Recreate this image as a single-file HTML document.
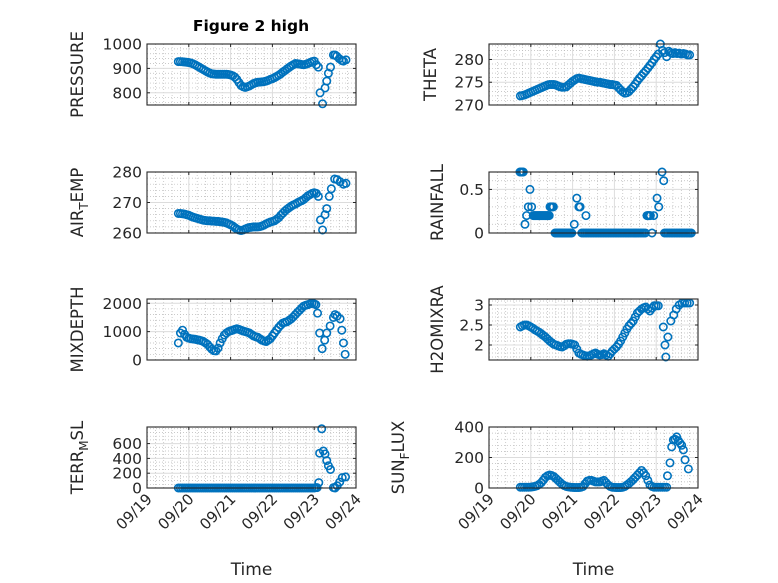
<!DOCTYPE html>
<html><head><meta charset="utf-8"><style>
body{margin:0;background:#fff;}
svg{display:block;font-family:"DejaVu Sans","Liberation Sans",sans-serif;}
</style></head><body>
<svg id="fig" width="778" height="583" viewBox="0 0 778 583" xmlns="http://www.w3.org/2000/svg">
<rect width="778" height="583" fill="#fff"/>
<text x="251" y="31" text-anchor="middle" font-weight="bold" font-size="15.5" fill="#000">Figure 2 high</text>
</svg>
<script>
const dayLabels = ["09/19","09/20","09/21","09/22","09/23","09/24"];
const mainT = [0.75,0.80,0.85,0.90,0.95,1.00,1.05,1.10,1.15,1.20,1.25,1.30,1.35,1.40,1.45,1.50,1.55,1.60,1.65,1.70,1.75,1.80,1.85,1.90,1.95,2.00,2.05,2.10,2.15,2.20,2.25,2.30,2.35,2.40,2.45,2.50,2.55,2.60,2.65,2.70,2.75,2.80,2.85,2.90,2.95,3.00,3.05,3.10,3.15,3.20,3.25,3.30,3.35,3.40,3.45,3.50,3.55,3.60,3.65,3.70,3.75,3.80,3.85,3.90,3.95,4.00];
const pressureV = [928,928,927,926,925,924,922,919,915,910,905,900,895,890,885,881,878,877,876,876,876,876,876,876,875,873,870,864,855,842,830,825,822,825,828,833,838,841,843,844,845,846,848,851,855,858,862,867,872,878,885,891,898,904,910,915,920,919,918,916,915,917,920,924,928,930];
const pressureTailT = [4.05,4.1,4.14,4.2,4.26,4.3,4.34,4.39,4.46,4.5,4.54,4.6,4.66,4.7,4.76];
const pressureTailV = [915,905,800,755,820,848,880,905,955,955,950,940,932,930,935];
const thetaV = [272,272.1,272.2,272.4,272.6,272.8,273,273.2,273.4,273.6,273.8,274,274.2,274.4,274.5,274.5,274.5,274.4,274.2,274,273.9,273.9,274,274.4,274.8,275.2,275.5,275.8,275.9,275.8,275.7,275.6,275.5,275.4,275.3,275.2,275.1,275,275,274.9,274.8,274.7,274.6,274.5,274.5,274.4,274.3,273.8,273.3,272.9,272.6,272.7,273,273.5,274,274.6,275.3,275.9,276.4,277,277.5,278.1,278.7,279.3,280,280.6];
const thetaTailT = [4.05,4.1,4.15,4.2,4.25,4.3,4.35,4.4,4.45,4.5,4.55,4.6,4.65,4.7,4.75,4.8];
const thetaTailV = [281.2,283.4,282,281.5,280.6,281.8,281.5,281.3,281.5,281.3,281.4,281.2,281.3,281.2,281,281];
const airV = [266.4,266.4,266.3,266.2,266,265.8,265.5,265.2,265,264.8,264.6,264.4,264.2,264.1,264,264,263.9,263.9,263.8,263.8,263.7,263.6,263.5,263.3,263,262.7,262.3,261.8,261.3,261,260.8,261,261.3,261.6,261.8,261.9,262,262,262,262.1,262.3,262.6,263,263.3,263.6,263.8,264,264.5,265,265.8,266.5,267.2,267.8,268.3,268.8,269.2,269.5,269.9,270.3,270.6,271,271.6,272.2,272.6,273,273.2];
const airTailT = [4.05,4.1,4.15,4.2,4.26,4.3,4.36,4.41,4.49,4.55,4.62,4.7,4.76];
const airTailV = [273,272,264.3,261,266,268,272,274.5,277.7,277.5,276.8,276,276.3];
const rainT = [0.74,0.76,0.78,0.80,0.82,0.86,0.90,0.94,0.98,1.02,1.06,1.08,1.10,1.12,1.14,1.16,1.18,1.20,1.22,1.24,1.26,1.28,1.30,1.32,1.34,1.36,1.38,1.40,1.42,1.44,1.46,1.48,1.50,1.52,1.54,1.58,1.60,1.62,1.64,1.66,1.68,1.70,1.72,1.74,1.76,1.78,1.80,1.82,1.84,1.86,1.88,1.90,1.92,1.94,1.96,1.98,2.04,2.10,2.15,2.18,2.32,2.22,2.26,2.30,2.34,2.38,2.42,2.46,2.50,2.54,2.58,2.62,2.66,2.70,2.74,2.78,2.82,2.86,2.90,2.94,2.98,3.02,3.06,3.10,3.14,3.18,3.22,3.26,3.30,3.34,3.38,3.42,3.46,3.50,3.54,3.58,3.62,3.66,3.70,3.74,3.78,3.80,3.82,3.84,3.86,3.90,3.94,4.02,4.06,4.14,4.18,4.20,4.24,4.28,4.32,4.36,4.40,4.44,4.48,4.52,4.56,4.60,4.64,4.68,4.72,4.76,4.80,4.84];
const rainV = [0.7,0.7,0.7,0.7,0.7,0.1,0.2,0.3,0.5,0.3,0.2,0.2,0.2,0.2,0.2,0.2,0.2,0.2,0.2,0.2,0.2,0.2,0.2,0.2,0.2,0.2,0.2,0.2,0.2,0.2,0.3,0.3,0.3,0.3,0.3,0,0,0,0,0,0,0,0,0,0,0,0,0,0,0,0,0,0,0,0,0,0.1,0.4,0.3,0.3,0.2,0,0,0,0,0,0,0,0,0,0,0,0,0,0,0,0,0,0,0,0,0,0,0,0,0,0,0,0,0,0,0,0,0,0,0,0,0,0,0,0.2,0.2,0.2,0.2,0.2,0,0.2,0.4,0.3,0.7,0.6,0,0,0,0,0,0,0,0,0,0,0,0,0,0,0,0,0,0];
const mixV = [600,950,1050,900,800,770,750,740,730,715,700,680,650,600,550,460,380,330,320,420,600,750,880,950,1000,1030,1050,1080,1100,1080,1050,1020,1000,980,950,900,850,820,800,750,700,670,650,700,750,850,950,1050,1150,1230,1300,1330,1350,1400,1450,1520,1600,1680,1750,1830,1900,1930,1950,1980,2000,1980];
const mixTailT = [4.04,4.08,4.13,4.19,4.25,4.3,4.38,4.46,4.5,4.55,4.62,4.66,4.7,4.74];
const mixTailV = [1950,1650,950,400,700,950,1200,1500,1600,1550,1450,1050,600,200];
const h2oV = [2.45,2.48,2.5,2.5,2.48,2.45,2.42,2.38,2.35,2.32,2.28,2.24,2.2,2.15,2.1,2.06,2.02,2.0,1.98,1.96,1.95,1.98,2.02,2.03,2.03,2.02,2.0,1.9,1.8,1.77,1.75,1.73,1.72,1.73,1.75,1.78,1.8,1.77,1.75,1.76,1.78,1.75,1.72,1.78,1.85,1.9,1.95,2.02,2.1,2.2,2.3,2.4,2.48,2.54,2.6,2.7,2.8,2.85,2.9,2.93,2.95,2.9,2.85,2.92,2.98,2.98];
const h2oTailT = [4.05,4.17,4.21,4.23,4.28,4.35,4.42,4.48,4.55,4.62,4.68,4.74,4.8];
const h2oTailV = [2.98,2.45,2.0,1.7,2.2,2.6,2.75,2.9,3.0,3.05,3.05,3.05,3.05];
const terrV = [0,0,0,0,0,0,0,0,0,0,0,0,0,0,0,0,0,0,0,0,0,0,0,0,0,0,0,0,0,0,0,0,0,0,0,0,0,0,0,0,0,0,0,0,0,0,0,0,0,0,0,0,0,0,0,0,0,0,0,0,0,0,0,0,0,0];
const terrTailT = [4.04,4.07,4.11,4.13,4.18,4.22,4.26,4.3,4.34,4.39,4.46,4.5,4.55,4.61,4.67,4.75];
const terrTailV = [5,5,73,470,800,500,460,370,300,250,5,0,30,80,140,150];
const sunV = [5,5,5,5,5,6,8,11,15,24,35,52,70,80,85,82,75,63,50,37,25,16,10,7,5,4,3,3,3,5,10,28,45,50,50,45,40,40,40,45,50,35,20,10,5,4,3,3,3,5,10,20,30,42,55,70,85,100,115,100,80,50,20,10,5,5];
const sunTailT = [4.05,4.1,4.15,4.2,4.25,4.27,4.33,4.37,4.41,4.45,4.49,4.53,4.57,4.61,4.65,4.69,4.77];
const sunTailV = [5,5,5,5,5,80,165,270,315,320,335,310,295,280,250,185,125];

const pressureTicks=[800,900,1000], thetaTicks=[270,275,280], airTicks=[260,270,280], rainTicks=[0,0.5];
const mixTicks=[0,1000,2000], h2oTicks=[2,2.5,3], terrTicks=[0,200,400,600], sunTicks=[0,200,400];
const h2oTickLabels=["2","2.5","3"], rainTickLabels=["0","0.5"];

const NS="http://www.w3.org/2000/svg";
const svg=document.getElementById('fig');
function el(tag,attrs,parent){const e=document.createElementNS(NS,tag);for(const k in attrs)e.setAttribute(k,attrs[k]);(parent||svg).appendChild(e);return e;}

const panels=[
 {name:'pressure',x0:147,y0:44,ymin:750,ymax:1000,ticks:pressureTicks,minor:20,t:mainT,v:pressureV,tt:pressureTailT,tv:pressureTailV,lab:['PRESSURE'],lx:77,xlab:false},
 {name:'theta',x0:489,y0:44,ymin:270,ymax:283.4,ticks:thetaTicks,minor:1,t:mainT,v:thetaV,tt:thetaTailT,tv:thetaTailV,lab:['THETA'],lx:430,xlab:false},
 {name:'air-temp',x0:147,y0:172,ymin:260,ymax:280,ticks:airTicks,minor:2,t:mainT,v:airV,tt:airTailT,tv:airTailV,lab:['AIR','T','EMP'],lx:77,xlab:false},
 {name:'rainfall',x0:489,y0:172,ymin:0,ymax:0.7,ticks:rainTicks,tl:rainTickLabels,minor:0.1,t:rainT,v:rainV,tt:[],tv:[],lab:['RAINFALL'],lx:437,xlab:false},
 {name:'mixdepth',x0:147,y0:299,ymin:0,ymax:2150,ticks:mixTicks,minor:200,t:mainT,v:mixV,tt:mixTailT,tv:mixTailV,lab:['MIXDEPTH'],lx:77,xlab:false},
 {name:'h2omixra',x0:489,y0:299,ymin:1.625,ymax:3.15,ticks:h2oTicks,tl:h2oTickLabels,minor:0.1,t:mainT,v:h2oV,tt:h2oTailT,tv:h2oTailV,lab:['H2OMIXRA'],lx:437,xlab:false},
 {name:'terr-msl',x0:147,y0:427,ymin:0,ymax:824,ticks:terrTicks,minor:50,t:mainT,v:terrV,tt:terrTailT,tv:terrTailV,lab:['TERR','M','SL'],lx:77,xlab:true},
 {name:'sun-flux',x0:489,y0:427,ymin:0,ymax:400,ticks:sunTicks,minor:40,t:mainT,v:sunV,tt:sunTailT,tv:sunTailV,lab:['SUN','F','LUX'],lx:398,xlab:true},
];
const W=209,H=61;
panels.forEach(p=>{
 const g=el('g',{});
 
 
 const xs=d=>p.x0+d/5*W;
 const ys=v=>p.y0+H-(v-p.ymin)/(p.ymax-p.ymin)*H;
 for(let d=0;d<5;d+=0.2){if(Math.abs(d-Math.round(d))<1e-6)continue;
  el('line',{x1:xs(d),x2:xs(d),y1:p.y0,y2:p.y0+H,stroke:'#b8b8b8','stroke-width':0.7,'stroke-dasharray':'1,2'},g);}
 const start=Math.ceil(p.ymin/p.minor-1e-6)*p.minor;
 for(let v=start;v<p.ymax;v+=p.minor){
  if(p.ticks.some(t=>Math.abs(t-v)<p.minor*0.01))continue;
  el('line',{x1:p.x0,x2:p.x0+W,y1:ys(v),y2:ys(v),stroke:'#b8b8b8','stroke-width':0.7,'stroke-dasharray':'1,2'},g);}
 for(let d=1;d<5;d++)el('line',{x1:xs(d),x2:xs(d),y1:p.y0,y2:p.y0+H,stroke:'#dcdcdc','stroke-width':1},g);
 p.ticks.forEach((t,i)=>{
  el('line',{x1:p.x0,x2:p.x0+W,y1:ys(t),y2:ys(t),stroke:'#dcdcdc','stroke-width':1},g);
  el('line',{x1:p.x0,x2:p.x0+3,y1:ys(t),y2:ys(t),stroke:'#262626','stroke-width':1},g);
  el('line',{x1:p.x0+W-3,x2:p.x0+W,y1:ys(t),y2:ys(t),stroke:'#262626','stroke-width':1},g);
  const tx=el('text',{x:p.x0-5,y:ys(t)+5.5,'text-anchor':'end','font-size':15.5,fill:'#262626'},g);
  
  
  tx.textContent=p.tl?p.tl[i]:String(t);
 });
 for(let d=0;d<=5;d++){
  el('line',{x1:xs(d),x2:xs(d),y1:p.y0+H,y2:p.y0+H-3,stroke:'#262626','stroke-width':1},g);
  el('line',{x1:xs(d),x2:xs(d),y1:p.y0,y2:p.y0+3,stroke:'#262626','stroke-width':1},g);
  if(p.xlab){
   const tx=el('text',{x:0,y:0,'text-anchor':'end','font-size':15,fill:'#262626',transform:`translate(${xs(d)+6},${p.y0+H+12}) rotate(-45)`},g);
   
   
   tx.textContent=dayLabels[d];
  }
 }
 const addPts=(T,V)=>T.forEach((d,i)=>{
  const c=el('circle',{cx:xs(d),cy:ys(V[i]),r:3.7,fill:'none',stroke:'#0072BD','stroke-width':1.6},g);
  
  
 });
 addPts(p.t,p.v); addPts(p.tt,p.tv);
 el('rect',{x:p.x0,y:p.y0,width:W,height:H,fill:'none',stroke:'#262626','stroke-width':1.1},g);
 const cy=p.y0+H/2;
 const yl=el('text',{x:0,y:0,'text-anchor':'middle','font-size':16.5,fill:'#262626',transform:`translate(${p.lx+6},${cy}) rotate(-90)`},g);
 
 
 if(p.lab.length===1){yl.textContent=p.lab[0];}
 else{
  const a=el('tspan',{},yl);a.textContent=p.lab[0];
  const b=el('tspan',{'font-size':12,dy:5},yl);b.textContent=p.lab[1];
  const c=el('tspan',{dy:-5},yl);c.textContent=p.lab[2];
 }
 if(p.xlab){
  const xl=el('text',{x:p.x0+W/2,y:575,'text-anchor':'middle','font-size':17,fill:'#262626'},g);
  
  
  xl.textContent='Time';
 }
});
</script>
</body></html>
